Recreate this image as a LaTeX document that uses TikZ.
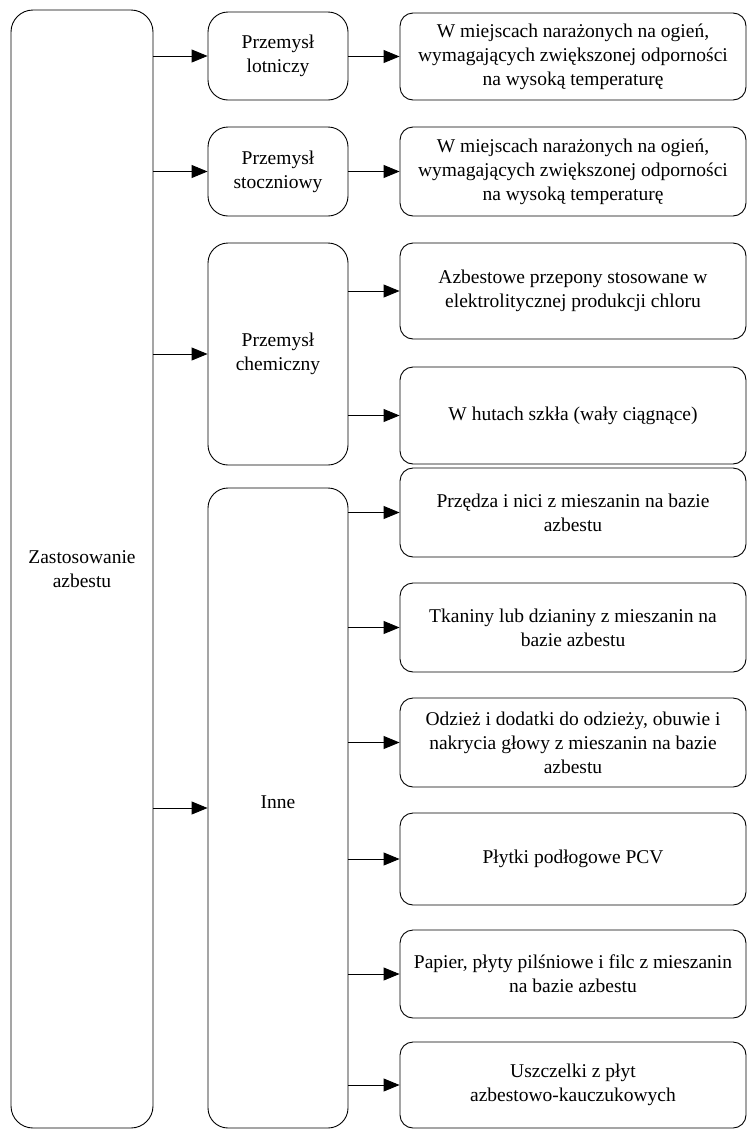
\documentclass[tikz,border=0pt]{standalone}
\usepackage{fontspec}
\setmainfont{Liberation Serif}
\usetikzlibrary{arrows.meta}
\begin{document}
\begin{tikzpicture}[x=1pt,y=-1pt,
  box/.style={draw, line width=0.9pt, align=center, inner sep=0pt,
    font=\fontsize{19.5}{24}\selectfont},
  bigbox/.style={box, rounded corners=22pt},
  midbox/.style={box, rounded corners=20pt, minimum width=140pt},
  leafbox/.style={box, rounded corners=13pt, minimum width=346pt},
  arr/.style={line width=0.9pt, -{Triangle[length=16pt,width=13pt]}}]
\useasboundingbox (0,0) rectangle (748,1130);

\node[bigbox, minimum width=142pt, minimum height=1118pt] (main) at (82,569) {Zastosowanie\\azbestu};

\node[midbox, minimum height=88pt] (lot) at (278,56) {Przemysł\\lotniczy};
\node[midbox, minimum height=89pt] (stocz) at (278,171.5) {Przemysł\\stoczniowy};
\node[midbox, minimum height=222pt] (chem) at (278,354) {Przemysł\\chemiczny};
\node[midbox, minimum height=640pt] (inne) at (278,808) {};
\node[font=\fontsize{19.5}{24}\selectfont] (innet) at (278,802) {Inne};

\node[leafbox, minimum height=87pt] (a1) at (573,56.5) {W miejscach narażonych na ogień,\\wymagających zwiększonej odporności\\na wysoką temperaturę};
\node[leafbox, minimum height=89pt] (a2) at (573,171.5) {W miejscach narażonych na ogień,\\wymagających zwiększonej odporności\\na wysoką temperaturę};
\node[leafbox, minimum height=96pt] (c1) at (573,291) {Azbestowe przepony stosowane w\\elektrolitycznej produkcji chloru};
\node[leafbox, minimum height=97pt] (c2) at (573,415.5) {W hutach szkła (wały ciągnące)};
\node[leafbox, minimum height=89pt] (i1) at (573,512.5) {Przędza i nici z mieszanin na bazie\\azbestu};
\node[leafbox, minimum height=89pt] (i2) at (573,627.5) {Tkaniny lub dzianiny z mieszanin na\\bazie azbestu};
\node[leafbox, minimum height=89pt] (i3) at (573,742.5) {Odzież i dodatki do odzieży, obuwie i\\nakrycia głowy z mieszanin na bazie\\azbestu};
\node[leafbox, minimum height=92pt] (i4) at (573,859) {Płytki podłogowe PCV};
\node[leafbox, minimum height=88pt] (i5) at (573,974) {Papier, płyty pilśniowe i filc z mieszanin\\na bazie azbestu};
\node[leafbox, minimum height=86pt] (i6) at (573,1085) {Uszczelki z płyt\\azbestowo-kauczukowych};

\foreach \t in {lot,stocz,chem,inne}
  \draw[arr] (main.east |- \t.west) -- (\t.west);
\draw[arr] (lot.east |- a1.west) -- (a1.west);
\draw[arr] (stocz.east |- a2.west) -- (a2.west);
\foreach \t in {c1,c2}
  \draw[arr] (chem.east |- \t.west) -- (\t.west);
\foreach \t in {i1,i2,i3,i4,i5,i6}
  \draw[arr] (inne.east |- \t.west) -- (\t.west);
\end{tikzpicture}
\end{document}
